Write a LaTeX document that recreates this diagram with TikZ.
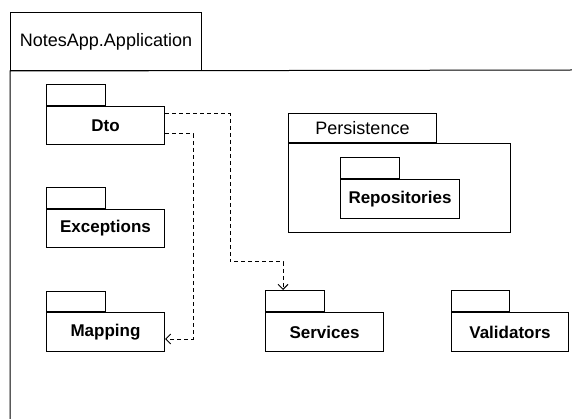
\documentclass[tikz,border=0pt]{standalone}
\usepackage{fontspec}
\setmainfont{Liberation Sans}
\usetikzlibrary{arrows.meta,calc}

\tikzset{
  frame/.style={draw=black, line width=1pt},
  pkg/.style={frame, rectangle, inner sep=0pt, anchor=north west,
    font=\fontsize{17}{20}\selectfont\bfseries},
  pkgtab/.style={frame, rectangle, inner sep=0pt, anchor=south west,
    minimum width=59pt, minimum height=21pt},
  dep/.style={draw=black, line width=1pt, dash pattern=on 4pt off 3pt,
    -{Straight Barb[length=5pt,width=10pt,line width=1pt]}}
}

\begin{document}
\begin{tikzpicture}[x=1pt,y=-1pt]
  \useasboundingbox (0,0) rectangle (572,419);

  % outer package NotesApp.Application (body runs past the page edges)
  \node[frame, rectangle, anchor=north west, inner sep=0pt,
        minimum width=191pt, minimum height=58pt,
        font=\fontsize{18}{21}\selectfont] (app) at (10,12) {NotesApp.Application};
  \draw[frame] (10,419.5) -- (app.south west) -- (572.5,70);

  % Dto
  \node[pkg, minimum width=118pt, minimum height=38pt] (dto) at (46,106) {Dto};
  \node[pkgtab] (dtotab) at (dto.north west) {};

  % Exceptions
  \node[pkg, minimum width=118pt, minimum height=38pt] (exc) at (46,209) {Exceptions};
  \node[pkgtab] (exctab) at (exc.north west) {};

  % Mapping
  \node[pkg, minimum width=118pt, minimum height=39pt] (map) at (46,312) {Mapping};
  \node[pkgtab, minimum height=20pt] (maptab) at (map.north west) {};

  % Services
  \node[pkg, minimum width=118pt, minimum height=39pt] (svc) at (265,312) {Services};
  \node[pkgtab] (svctab) at (svc.north west) {};

  % Validators
  \node[pkg, minimum width=117pt, minimum height=39pt] (val) at (451,312) {Validators};
  \node[pkgtab, minimum width=58pt] (valtab) at (val.north west) {};

  % Persistence with nested Repositories
  \node[frame, rectangle, anchor=north west, inner sep=0pt,
        minimum width=222pt, minimum height=89pt] (per) at (288,143) {};
  \node[frame, rectangle, anchor=south west, inner sep=0pt,
        minimum width=148pt, minimum height=29pt,
        font=\fontsize{18}{21}\selectfont] (pertab) at (per.north west) {Persistence};
  \node[pkg, minimum width=119pt, minimum height=39pt] (rep) at (340,179) {Repositories};
  \node[pkgtab] (reptab) at (rep.north west) {};

  % dependencies
  \coordinate (b1) at (230,262);
  \coordinate (b2) at (193,339);
  \draw[dep] ($(dto.north east)+(0,8)$) -| (b1) -| ($(svctab.north west)+(18,0)$);
  \draw[dep] ($(dto.north east)+(0,28)$) -| (b2) -- (map.east |- b2);
\end{tikzpicture}
\end{document}
